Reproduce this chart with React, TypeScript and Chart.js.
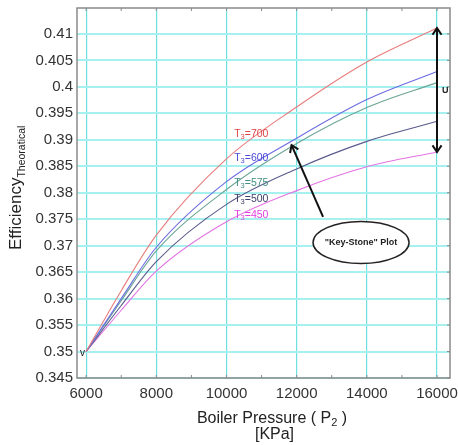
import React, { useEffect, useRef } from "react";
import { Chart, registerables } from "chart.js";

Chart.register(...registerables);

// Boiler pressure P2 [KPa]
const pressures = [6000, 7000, 8000, 10000, 12000, 14000, 16000];
// Theoretical efficiency per T3
const eff700 = [0.35, 0.3615, 0.372, 0.3864, 0.3962, 0.4047, 0.4111];
const eff600 = [0.35, 0.36, 0.3697, 0.3821, 0.3903, 0.3976, 0.4029];
const eff575 = [0.35, 0.3596, 0.369, 0.3806, 0.3893, 0.3961, 0.4008];
const eff500 = [0.35, 0.3587, 0.367, 0.3778, 0.3845, 0.3897, 0.3935];
const eff450 = [0.35, 0.3578, 0.3652, 0.3745, 0.3804, 0.3849, 0.3877];

const seriesTemps = ["700", "600", "575", "500", "450"];
const xTicks = [6000, 8000, 10000, 12000, 14000, 16000];
const yTicks = [
  0.345, 0.35, 0.355, 0.36, 0.365, 0.37, 0.375, 0.38, 0.385, 0.39, 0.395, 0.4,
  0.405, 0.41,
];

const FONT = '"Liberation Sans", Arial, Helvetica, sans-serif';
const lineColors = ["#e87c7c", "#6b6be0", "#6aa596", "#5a5a8c", "#e274e2"];
const labelColors = ["#e04545", "#4a4ad6", "#3f8f82", "#3e3e6a", "#e040e0"];

type Part = [string, boolean];

function drawParts(
  ctx: CanvasRenderingContext2D,
  parts: Part[],
  x: number,
  y: number,
  size: number,
  subSize: number,
  subDrop: number,
  color: string,
  align: "left" | "center",
  bold = false
) {
  const w = (t: string, s: number) => {
    ctx.font = `${bold ? "bold " : ""}${s}px ${FONT}`;
    return ctx.measureText(t).width;
  };
  let total = 0;
  for (const [t, sub] of parts) total += w(t, sub ? subSize : size);
  let cx = align === "center" ? x - total / 2 : x;
  ctx.fillStyle = color;
  ctx.textAlign = "left";
  ctx.textBaseline = "alphabetic";
  for (const [t, sub] of parts) {
    const s = sub ? subSize : size;
    ctx.font = `${bold ? "bold " : ""}${s}px ${FONT}`;
    ctx.fillText(t, cx, sub ? y + subDrop : y);
    cx += ctx.measureText(t).width;
  }
}

function arrowHead(
  ctx: CanvasRenderingContext2D,
  tx: number,
  ty: number,
  angle: number,
  len: number,
  spread: number
) {
  ctx.beginPath();
  ctx.moveTo(tx - len * Math.cos(angle - spread), ty - len * Math.sin(angle - spread));
  ctx.lineTo(tx, ty);
  ctx.lineTo(tx - len * Math.cos(angle + spread), ty - len * Math.sin(angle + spread));
  ctx.stroke();
}

const decorPlugin = {
  id: "decor",
  afterDatasetsDraw(chart: any) {
    const ctx: CanvasRenderingContext2D = chart.ctx;
    const xs = chart.scales.x;
    const ys = chart.scales.y;
    const ca = chart.chartArea;
    const px = (v: number) => xs.getPixelForValue(v);
    const py = (v: number) => ys.getPixelForValue(v);
    ctx.save();

    // frame
    ctx.strokeStyle = "#8a8a8a";
    ctx.lineWidth = 1.5;
    ctx.strokeRect(ca.left, ca.top, ca.right - ca.left, ca.bottom - ca.top);
    // minor ticks
    ctx.lineWidth = 1;
    ctx.strokeStyle = "#8a8a8a";
    for (let p = 6000; p <= 16000; p += 1000) {
      const x = px(p);
      ctx.beginPath();
      ctx.moveTo(x, ca.top);
      ctx.lineTo(x, ca.top + 3);
      ctx.moveTo(x, ca.bottom);
      ctx.lineTo(x, ca.bottom - 3);
      ctx.stroke();
    }
    for (const v of yTicks) {
      const y = py(v);
      ctx.beginPath();
      ctx.moveTo(ca.right, y);
      ctx.lineTo(ca.right - 3, y);
      ctx.stroke();
    }

    // series labels
    const labelPos = [0.3913, 0.3868, 0.382, 0.379, 0.376];
    seriesTemps.forEach((t, i) => {
      drawParts(
        ctx,
        [["T", false], ["3", true], ["=" + t, false]],
        px(10220),
        py(labelPos[i]) + 4,
        10.5,
        7.5,
        2,
        labelColors[i],
        "left"
      );
    });

    // v label at start
    ctx.fillStyle = "#222";
    ctx.font = `10px ${FONT}`;
    ctx.textAlign = "right";
    ctx.textBaseline = "alphabetic";
    ctx.fillText("v", px(6000) - 1, py(0.35) + 4);

    // U double arrow
    const ux = px(16000);
    const uTop = py(eff700[eff700.length - 1]);
    const uBot = py(eff450[eff450.length - 1]);
    ctx.strokeStyle = "#111";
    ctx.lineWidth = 2;
    ctx.beginPath();
    ctx.moveTo(ux, uTop);
    ctx.lineTo(ux, uBot);
    ctx.stroke();
    arrowHead(ctx, ux, uTop, -Math.PI / 2, 8, 0.6);
    arrowHead(ctx, ux, uBot, Math.PI / 2, 8, 0.6);
    ctx.fillStyle = "#222";
    ctx.font = `bold 9px ${FONT}`;
    ctx.textAlign = "left";
    ctx.fillText("U", ux + 5, (uTop + uBot) / 2 + 3);

    // Key-Stone arrow
    const tipX = px(11855);
    const tipY = py(0.389);
    const tailX = px(12752);
    const tailY = py(0.37545);
    ctx.beginPath();
    ctx.moveTo(tailX, tailY);
    ctx.lineTo(tipX, tipY);
    ctx.stroke();
    arrowHead(ctx, tipX, tipY, Math.atan2(tipY - tailY, tipX - tailX), 8, 0.6);

    // ellipse
    const ex = px(13835);
    const ey = py(0.3706);
    ctx.beginPath();
    ctx.ellipse(ex, ey, 48, 21, 0, 0, Math.PI * 2);
    ctx.fillStyle = "#ffffff";
    ctx.fill();
    ctx.lineWidth = 1.5;
    ctx.strokeStyle = "#222";
    ctx.stroke();
    ctx.fillStyle = "#222";
    ctx.font = `bold 9px ${FONT}`;
    ctx.textAlign = "center";
    ctx.textBaseline = "middle";
    ctx.fillText('"Key-Stone" Plot', ex, ey);

    // axis titles
    drawParts(
      ctx,
      [["Boiler Pressure ( P", false], ["2", true], [" )", false]],
      272,
      423,
      16,
      11,
      3,
      "#222",
      "center"
    );
    drawParts(ctx, [["[KPa]", false]], 274.5, 438.5, 16, 11, 3, "#222", "center");

    ctx.save();
    ctx.translate(21, 250);
    ctx.rotate(-Math.PI / 2);
    drawParts(
      ctx,
      [["Efficiency", false], ["Theoratical", true]],
      0,
      0,
      17,
      10.5,
      4,
      "#222",
      "left"
    );
    ctx.restore();

    ctx.restore();
  },
};

export default function App() {
  const ref = useRef<HTMLCanvasElement>(null);
  useEffect(() => {
    if (!ref.current) return;
    const series = [eff700, eff600, eff575, eff500, eff450];
    const chart = new Chart(ref.current, {
      type: "line",
      data: {
        datasets: series.map((s, i) => ({
          label: "T3=" + seriesTemps[i],
          data: pressures.map((p, j) => ({ x: p, y: s[j] })),
          borderColor: lineColors[i],
          borderWidth: 1.1,
          pointRadius: 0,
          fill: false,
          cubicInterpolationMode: "monotone" as const,
        })),
      },
      options: {
        animation: false,
        responsive: false,
        maintainAspectRatio: false,
        layout: { padding: { top: 8, right: 8, left: 0, bottom: 0 } },
        plugins: {
          legend: { display: false },
          tooltip: { enabled: false },
          title: { display: false },
        },
        scales: {
          x: {
            type: "linear",
            min: 5740,
            max: 16370,
            afterBuildTicks: (scale: any) => {
              scale.ticks = xTicks.map((v) => ({ value: v }));
            },
            afterFit: (scale: any) => {
              scale.height = 67;
              scale.paddingLeft = 0;
              scale.paddingRight = 0;
            },
            border: { display: false },
            grid: {
              color: "#6fe0e0",
              lineWidth: 1.2,
              drawTicks: false,
            },
            ticks: {
              padding: 7,
              color: "#333",
              font: { family: FONT, size: 15 },
              maxRotation: 0,
              callback: (v: any) => String(v),
            },
          },
          y: {
            type: "linear",
            min: 0.345,
            max: 0.4149,
            afterBuildTicks: (scale: any) => {
              scale.ticks = yTicks.map((v) => ({ value: v }));
            },
            afterFit: (scale: any) => {
              scale.width = 77;
              scale.paddingTop = 0;
              scale.paddingBottom = 0;
            },
            border: { display: false },
            grid: {
              color: "#a6f0f0",
              lineWidth: 2,
              drawTicks: false,
            },
            ticks: {
              padding: 4,
              color: "#333",
              font: { family: FONT, size: 15 },
              callback: (v: any) => String(Number(Number(v).toFixed(3))),
            },
          },
        },
      },
      plugins: [decorPlugin],
    });
    return () => chart.destroy();
  }, []);

  return (
    <div style={{ position: "fixed", left: 0, top: 0, width: 458, height: 445, background: "#fff" }}>
      <canvas ref={ref} width={458} height={445} style={{ display: "block" }} />
    </div>
  );
}
